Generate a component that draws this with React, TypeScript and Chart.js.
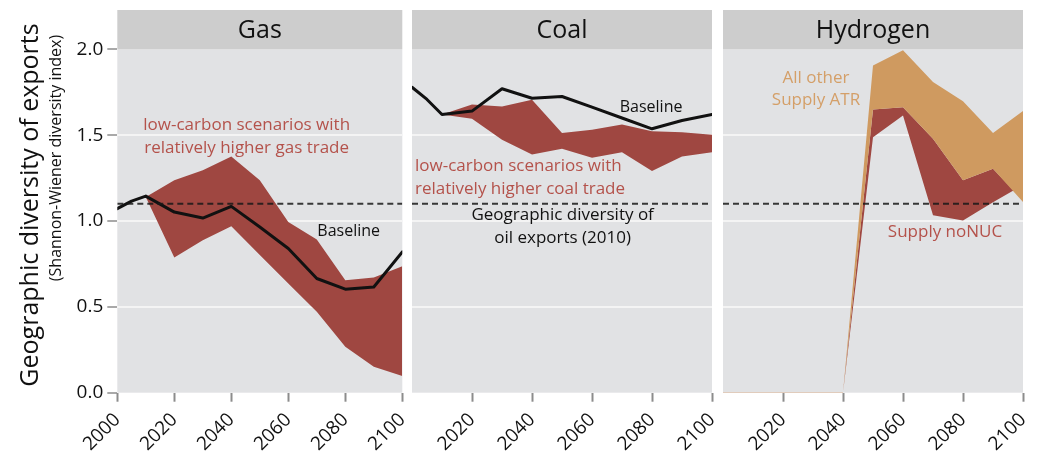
import React, { useEffect, useRef } from "react";
import { Chart, registerables } from "chart.js";

Chart.register(...registerables);

// ---- data -----------------------------------------------------------------
const baselineYears = [2000, 2005, 2010, 2020, 2030, 2040, 2050, 2060, 2070, 2080, 2090, 2100];
const bandYears = [2010, 2020, 2030, 2040, 2050, 2060, 2070, 2080, 2090, 2100];
const h2Years = [2000, 2010, 2020, 2030, 2040, 2050, 2060, 2070, 2080, 2090, 2100];

const gasBaseline = [1.072, 1.116, 1.145, 1.052, 1.017, 1.085, 0.965, 0.84, 0.665, 0.603, 0.616, 0.82];
const gasLowCarbonHigh = [1.14, 1.237, 1.295, 1.376, 1.237, 0.994, 0.892, 0.655, 0.671, 0.737];
const gasLowCarbonLow = [1.14, 0.787, 0.888, 0.969, 0.802, 0.636, 0.471, 0.267, 0.151, 0.097];

const coalBaseline = [1.779, 1.708, 1.62, 1.64, 1.77, 1.715, 1.725, 1.663, 1.6, 1.537, 1.585, 1.62];
const coalLowCarbonHigh = [1.62, 1.678, 1.667, 1.706, 1.512, 1.531, 1.562, 1.523, 1.517, 1.502];
const coalLowCarbonLow = [1.62, 1.595, 1.473, 1.388, 1.421, 1.369, 1.401, 1.291, 1.376, 1.401];

const h2NoNucLow = [0, 0, 0, 0, 0, 1.488, 1.615, 1.033, 1.003, 1.109, 1.21];
const h2NoNucHigh = [0, 0, 0, 0, 0, 1.649, 1.663, 1.479, 1.237, 1.305, 1.12];
const h2AtrLow = [0, 0, 0, 0, 0, 1.649, 1.663, 1.479, 1.237, 1.305, 1.11];
const h2AtrHigh = [0, 0, 0, 0, 0, 1.905, 1.995, 1.81, 1.698, 1.512, 1.64];

const oilDiversity2010 = 1.1;

const yTickValues = [0, 0.5, 1, 1.5, 2];
const xTickValuesFirst = [2000, 2020, 2040, 2060, 2080, 2100];
const xTickValuesRest = [2020, 2040, 2060, 2080, 2100];

// ---- styling --------------------------------------------------------------
const FONT = "'Open Sans', 'Noto Sans', sans-serif";
const RED_FILL = "#9f4741";
const ORANGE_FILL = "#cf9a60";
const RED_TEXT = "#b4524b";
const ORANGE_TEXT = "#d49f68";
const PANEL_BG = "#e1e2e4";
const STRIP_BG = "#cdcdcd";
const GRID = "#f4f4f4";
const TICK = "#8c8c8c";
const INK = "#111111";

const STRIP_TOP = 10;
const PLOT_TOP = 49.3;
const PLOT_BOTTOM = 392.7;
const PAGE_H = 457;

type Note = { lines: string[]; x: number; y: number; color: string; align: CanvasTextAlign; lineGap: number; size: number };

const pts = (xs: number[], ys: number[]) => xs.map((x, i) => ({ x, y: ys[i] }));

const dashedRef = () => ({
  data: [
    { x: 2000, y: oilDiversity2010 },
    { x: 2100, y: oilDiversity2010 },
  ],
  borderColor: "rgba(25,25,25,0.85)",
  borderWidth: 2,
  borderDash: [6, 4],
  pointRadius: 0,
  fill: false,
});

const baselineLine = (ys: number[]) => ({
  data: pts(baselineYears, ys),
  borderColor: INK,
  borderWidth: 3,
  borderJoinStyle: "round" as const,
  borderCapStyle: "round" as const,
  pointRadius: 0,
  fill: false,
});

const bandEdge = (xs: number[], ys: number[], fillTarget: number | false, color: string) => ({
  data: pts(xs, ys),
  borderColor: "transparent",
  borderWidth: 1,
  pointRadius: 0,
  fill: fillTarget === false ? false : { target: fillTarget },
  backgroundColor: color,
});

type PanelSpec = {
  title: string;
  canvasLeft: number;
  canvasWidth: number;
  padLeft: number;
  padRight: number;
  showY: boolean;
  xTicks: number[];
  datasets: any[];
  notes: Note[];
};

const gasPanel: PanelSpec = {
  title: "Gas",
  canvasLeft: 0,
  canvasWidth: 430,
  padLeft: 0,
  padRight: 430 - 402.3,
  showY: true,
  xTicks: xTickValuesFirst,
  datasets: [
    dashedRef(),
    baselineLine(gasBaseline),
    bandEdge(bandYears, gasLowCarbonHigh, 3, RED_FILL),
    bandEdge(bandYears, gasLowCarbonLow, false, RED_FILL),
  ],
  notes: [
    { lines: ["low-carbon scenarios with", "relatively higher gas trade"], x: 2045.4, y: 1.556, color: RED_TEXT, align: "center", lineGap: 0.132, size: 17 },
    { lines: ["Baseline"], x: 2081.2, y: 0.942, color: INK, align: "center", lineGap: 0, size: 16 },
  ],
};

const coalPanel: PanelSpec = {
  title: "Coal",
  canvasLeft: 387,
  canvasWidth: 350,
  padLeft: 25,
  padRight: 25,
  showY: false,
  xTicks: xTickValuesRest,
  datasets: [
    dashedRef(),
    baselineLine(coalBaseline),
    bandEdge(bandYears, coalLowCarbonHigh, 3, RED_FILL),
    bandEdge(bandYears, coalLowCarbonLow, false, RED_FILL),
  ],
  notes: [
    { lines: ["Baseline"], x: 2079.7, y: 1.663, color: INK, align: "center", lineGap: 0, size: 16 },
    { lines: ["low-carbon scenarios with", "relatively higher coal trade"], x: 2001, y: 1.32, color: RED_TEXT, align: "left", lineGap: 0.132, size: 17 },
    { lines: ["Geographic diversity of", "oil exports (2010)"], x: 2050.2, y: 1.033, color: INK, align: "center", lineGap: 0.134, size: 17 },
  ],
};

const h2Panel: PanelSpec = {
  title: "Hydrogen",
  canvasLeft: 698,
  canvasWidth: 350,
  padLeft: 25,
  padRight: 25,
  showY: false,
  xTicks: xTickValuesRest,
  datasets: [
    dashedRef(),
    bandEdge(h2Years, h2AtrHigh, 2, ORANGE_FILL),
    bandEdge(h2Years, h2AtrLow, false, ORANGE_FILL),
    bandEdge(h2Years, h2NoNucHigh, 4, RED_FILL),
    {
      ...bandEdge(h2Years, h2NoNucLow, false, RED_FILL),
      borderWidth: 1.5,
      segment: {
        borderColor: (c: any) => (c.p1.parsed.x <= 2040 ? "rgba(214,160,120,0.55)" : "transparent"),
      },
    },
  ],
  notes: [
    { lines: ["All other", "Supply ATR"], x: 2031, y: 1.834, color: ORANGE_TEXT, align: "center", lineGap: 0.128, size: 17 },
    { lines: ["Supply noNUC"], x: 2074, y: 0.934, color: RED_TEXT, align: "center", lineGap: 0, size: 17 },
  ],
};

// ---- plugins --------------------------------------------------------------
const panelFrame = (title: string) => ({
  id: "panelFrame",
  beforeDraw(chart: any) {
    const { ctx, chartArea } = chart;
    const { left, right, top, bottom } = chartArea;
    ctx.save();
    ctx.fillStyle = PANEL_BG;
    ctx.fillRect(left, top, right - left, bottom - top);
    ctx.restore();
  },
  afterDraw(chart: any) {
    const { ctx, chartArea } = chart;
    const { left, right, top } = chartArea;
    ctx.save();
    ctx.fillStyle = STRIP_BG;
    ctx.fillRect(left, STRIP_TOP, right - left, top - STRIP_TOP);
    ctx.fillStyle = INK;
    ctx.font = `25px ${FONT}`;
    ctx.textAlign = "center";
    ctx.textBaseline = "middle";
    ctx.fillText(title, (left + right) / 2, (STRIP_TOP + top) / 2 + 1);
    ctx.restore();
  },
});

const notesPlugin = (notes: Note[]) => ({
  id: "notes",
  afterDatasetsDraw(chart: any) {
    const { ctx } = chart;
    const xs = chart.scales.x;
    const ys = chart.scales.y;
    ctx.save();
    ctx.textBaseline = "middle";
    notes.forEach((n) => {
      ctx.font = `${n.size}px ${FONT}`;
      ctx.fillStyle = n.color;
      ctx.textAlign = n.align;
      n.lines.forEach((line, i) => {
        ctx.fillText(line, xs.getPixelForValue(n.x), ys.getPixelForValue(n.y - i * n.lineGap));
      });
    });
    ctx.restore();
  },
});

const axisTitle = {
  id: "axisTitle",
  afterDraw(chart: any) {
    const { ctx } = chart;
    ctx.save();
    ctx.fillStyle = INK;
    ctx.textAlign = "center";
    ctx.textBaseline = "middle";
    ctx.translate(31, 205);
    ctx.rotate(-Math.PI / 2);
    ctx.font = `25px ${FONT}`;
    ctx.fillText("Geographic diversity of exports", 0, 0);
    ctx.restore();
    ctx.save();
    ctx.fillStyle = INK;
    ctx.textAlign = "center";
    ctx.textBaseline = "middle";
    ctx.translate(56.5, 158);
    ctx.rotate(-Math.PI / 2);
    ctx.font = `16px ${FONT}`;
    ctx.fillText("(Shannon-Wiener diversity index)", 0, 0);
    ctx.restore();
  },
};

function buildConfig(p: PanelSpec): any {
  const plugins: any[] = [panelFrame(p.title), notesPlugin(p.notes)];
  if (p.showY) plugins.push(axisTitle);
  return {
    type: "line",
    data: { datasets: p.datasets.map((d, i) => ({ ...d, order: i })) },
    plugins,
    options: {
      responsive: false,
      animation: false,
      events: [],
      layout: { padding: { left: p.padLeft, right: p.padRight, top: PLOT_TOP, bottom: 0 } },
      plugins: { legend: { display: false }, tooltip: { enabled: false }, title: { display: false } },
      elements: { line: { tension: 0 } },
      scales: {
        x: {
          type: "linear",
          min: 2000,
          max: 2100,
          afterBuildTicks: (s: any) => {
            s.ticks = p.xTicks.map((v) => ({ value: v }));
          },
          afterFit: (s: any) => {
            s.height = PAGE_H - PLOT_BOTTOM;
          },
          ticks: {
            autoSkip: false,
            minRotation: 45,
            maxRotation: 45,
            padding: 7,
            color: INK,
            font: { family: FONT, size: 19 },
            callback: (v: number) => String(v),
          },
          grid: { drawOnChartArea: false, drawTicks: true, tickLength: 9, tickColor: TICK, tickWidth: 2 },
          border: { display: false },
        },
        y: {
          type: "linear",
          min: 0,
          max: 2,
          afterBuildTicks: (s: any) => {
            s.ticks = yTickValues.map((v) => ({ value: v }));
          },
          afterFit: (s: any) => {
            s.width = p.showY ? 117.3 : 0;
          },
          ticks: {
            display: p.showY,
            padding: 4,
            color: INK,
            font: { family: FONT, size: 19 },
            callback: (v: number) => v.toFixed(1),
          },
          grid: {
            drawOnChartArea: true,
            drawTicks: p.showY,
            tickLength: p.showY ? 10 : 0,
            tickColor: TICK,
            tickWidth: 1.5,
            lineWidth: 2,
            color: (c: any) => (c.tick && c.tick.value > 0 && c.tick.value < 2 ? GRID : "transparent"),
          },
          border: { display: false },
        },
      },
    },
  };
}

function Panel({ spec }: { spec: PanelSpec }) {
  const ref = useRef<HTMLCanvasElement | null>(null);
  useEffect(() => {
    if (!ref.current) return;
    const chart = new Chart(ref.current, buildConfig(spec));
    return () => chart.destroy();
  }, [spec]);
  return (
    <canvas
      ref={ref}
      width={spec.canvasWidth}
      height={PAGE_H}
      style={{ position: "absolute", left: spec.canvasLeft, top: 0, width: spec.canvasWidth, height: PAGE_H }}
    />
  );
}

export default function App() {
  return (
    <div
      style={{
        position: "absolute",
        left: 0,
        top: 0,
        width: 1038,
        height: PAGE_H,
        overflow: "hidden",
        background: "#ffffff",
      }}
    >
      <Panel spec={gasPanel} />
      <Panel spec={coalPanel} />
      <Panel spec={h2Panel} />
    </div>
  );
}
